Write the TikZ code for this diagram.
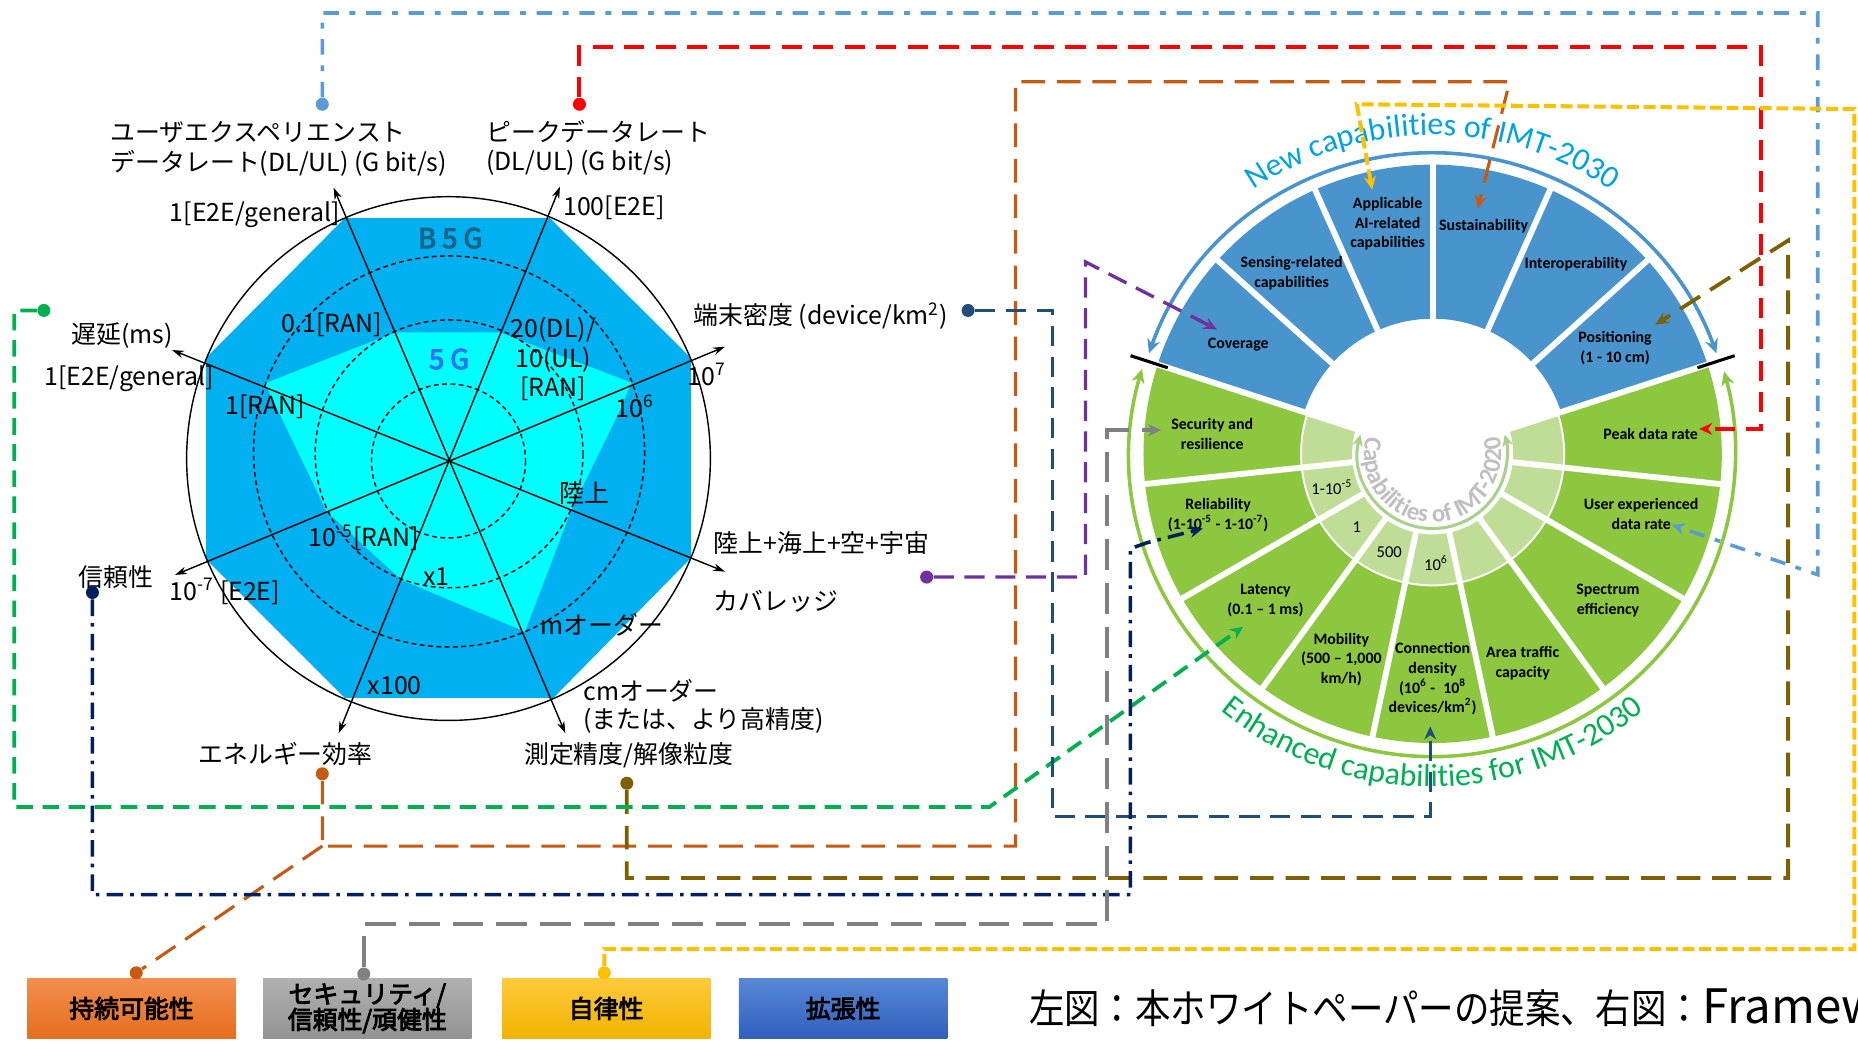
\documentclass[tikz,border=0pt]{standalone}
\usepackage{fontspec}
\setmainfont{Carlito}
\newfontfamily\jp{Noto Sans CJK JP}
\newfontfamily\jpbold[FakeBold=3.5]{Noto Sans CJK JP}
\newfontfamily\jpheavy[FakeBold=4]{Noto Sans CJK JP}
\newfontfamily\jpnarrow[FakeStretch=0.88]{Noto Sans CJK JP}
\newfontfamily\carl{Carlito}
\usetikzlibrary{arrows.meta,decorations.text}

\definecolor{octblue}{HTML}{00B0F0}
\definecolor{gcyan}{HTML}{00FFFF}
\definecolor{bfiveg}{HTML}{1B6488}
\definecolor{fiveg}{HTML}{2F74F0}
\definecolor{wblue}{HTML}{4A94CD}
\definecolor{wgreen}{HTML}{8DC63F}
\definecolor{lgreen}{HTML}{C0DD98}
\definecolor{igreen}{HTML}{A9D18E}
\definecolor{ltgray}{HTML}{BFBFBF}
\definecolor{tblue}{HTML}{00A3E0}
\definecolor{tgreen}{HTML}{00B050}
\definecolor{clblue}{HTML}{5B9BD5}
\definecolor{cred}{HTML}{FF0000}
\definecolor{cbrown}{HTML}{C55A11}
\definecolor{colive}{HTML}{7F6000}
\definecolor{cgreen}{HTML}{00B050}
\definecolor{cnavy}{HTML}{1F4E79}
\definecolor{cpurple}{HTML}{7030A0}
\definecolor{cdnavy}{HTML}{002060}
\definecolor{cgray}{HTML}{808080}
\definecolor{cyellow}{HTML}{FFC000}
\definecolor{boxOt}{HTML}{F28E4E}
\definecolor{boxOb}{HTML}{E66E1E}
\definecolor{boxGt}{HTML}{B0B0B0}
\definecolor{boxGb}{HTML}{939393}
\definecolor{boxYt}{HTML}{FFC93C}
\definecolor{boxYb}{HTML}{EFB400}
\definecolor{boxBt}{HTML}{5887D6}
\definecolor{boxBb}{HTML}{3060BC}

\tikzset{
  jl/.style={font=\jp\fontsize{10.5}{12}\selectfont, inner sep=0pt, anchor=west},
  jc/.style={font=\jp\fontsize{10.5}{12}\selectfont, inner sep=0pt},
  seglab/.style={font=\carl\bfseries\fontsize{6.7}{8.3}\selectfont, align=center, inner sep=0pt},
  ringval/.style={font=\carl\fontsize{7}{8}\selectfont, inner sep=0pt},
  dotn/.style={circle, inner sep=0pt, minimum size=5.5pt},
  tipa/.style={-{Stealth[length=5.5pt,width=5pt]}},
  axl/.style={line width=0.6pt, {Stealth[length=5pt,width=3.2pt]}-{Stealth[length=5pt,width=3.2pt]}},
  dcirc/.style={line width=0.6pt, dash pattern=on 2pt off 1.5pt},
  lbox/.style={minimum width=88pt, minimum height=25pt, inner sep=0pt, font=\jpbold\fontsize{10.5}{10.8}\selectfont, align=center},
  clb/.style={draw=clblue, line width=1.5pt, dash pattern=on 6.5pt off 4.5pt on 2.5pt off 4.5pt},
  crd/.style={draw=cred, line width=1.7pt, dash pattern=on 8.5pt off 4.8pt},
  cbr/.style={draw=cbrown, line width=1.3pt, dash pattern=on 10pt off 5pt},
  col/.style={draw=colive, line width=1.6pt, dash pattern=on 10pt off 5pt},
  cgr/.style={draw=cgreen, line width=1.6pt, dash pattern=on 7pt off 4pt},
  cnv/.style={draw=cnavy, line width=1.4pt, dash pattern=on 8.5pt off 4.5pt},
  cpu/.style={draw=cpurple, line width=1.4pt, dash pattern=on 8.5pt off 4.5pt},
  cdn/.style={draw=cdnavy, line width=1.5pt, dash pattern=on 7pt off 3pt on 1.5pt off 3pt},
  cgy/.style={draw=cgray, line width=1.6pt, dash pattern=on 13pt off 5.5pt},
  cye/.style={draw=cyellow, line width=1.7pt, dash pattern=on 5pt off 2pt},
}

\begin{document}
\begin{tikzpicture}[x=0.5pt,y=-0.5pt]
\useasboundingbox (0,0) rectangle (1568,881);
\clip (0,0) rectangle (1568,881);

% ---------------- radar chart ----------------
\fill[octblue] (291,184) -- (464,184) -- (583,302) -- (583,471) -- (467,589) -- (291,589) -- (174,472) -- (174,302) -- cycle;
\fill[gcyan] (334,280.4) -- (421.4,280.4) -- (533,323) -- (522.6,347.4) -- (482.4,429.8) -- (443,533) -- (339,489.5) -- (275.7,431.8) -- (223.6,323.5) -- cycle;
\draw[line width=0.6pt] (378.5,387) circle[radius=221];
\draw[dcirc] (378.5,389) circle[radius=65];
\draw[dcirc] (379,383) circle[radius=113];
\draw[dcirc] (379,381) circle[radius=165];

\coordinate (axU) at (281.5,158.4);
\coordinate (axM) at (477.1,618.8);
\coordinate (axP) at (472.6,157.5);
\coordinate (axE) at (285.8,618.8);
\coordinate (axD) at (611.8,292.6);
\coordinate (axR) at (147.7,485.2);
\coordinate (axL) at (145.2,295.4);
\coordinate (axC) at (611.8,482.4);
\draw[axl] (axU) -- (axM);
\draw[axl] (axP) -- (axE);
\draw[axl] (axD) -- (axR);
\draw[axl] (axL) -- (axC);

\node[jl] (l1a) at (93,112) {ユーザエクスペリエンスト};
\node[jl] (l1b) at (93,138) {データレート(DL/UL) (G bit/s)};
\node[jl] (l2a) at (410,111) {ピークデータレート};
\node[jl] (l2b) at (410,137) {(DL/UL) (G bit/s)};
\node[jc, anchor=east] (l3) at (287,181) {1[E2E/general]};
\node[jl] (l4) at (475,175) {100[E2E]};
\node[font=\jpheavy\fontsize{11.5}{12}\selectfont, text=bfiveg, inner sep=0pt] (b5g) at (380,201) {B 5 G};
\node[font=\jpheavy\fontsize{11.5}{12}\selectfont, text=fiveg, inner sep=0pt] (f5g) at (379,303) {5 G};
\node[jc] (l5) at (280,274) {0.1[RAN]};
\node[jc] (l6a) at (467,278) {20(DL)/};
\node[jc] (l6b) at (467,304) {10(UL)};
\node[jc] (l6c) at (467,328) {[RAN]};
\node[jl] (l7) at (60,283) {遅延(ms)};
\node[jl] (l8) at (37,320) {1[E2E/general]};
\node[jl] (l9) at (190,343) {1[RAN]};
\node[jl] (l10) at (519,343) {10\textsuperscript{6}};
\node[jl] (l11) at (580,316) {10\textsuperscript{7}};
\node[jl] (l12) at (585,267) {端末密度 (device/km\textsuperscript{2})};
\node[jl] (l13) at (472,416) {陸上};
\node[jl] (l14) at (602,458) {陸上+海上+空+宇宙};
\node[jl] (l15) at (602,507) {カバレッジ};
\node[jl] (l16) at (260,454) {10\textsuperscript{-5}[RAN]};
\node[jl] (l17) at (357,487) {x1};
\node[jl] (l18) at (66,487) {信頼性};
\node[jl] (l19) at (143,499) {10\textsuperscript{-7} [E2E]};
\node[jl] (l20) at (456,527) {mオーダー};
\node[jl] (l21) at (310,579) {x100};
\node[jl] (l22a) at (492,583) {cmオーダー};
\node[jl] (l22b) at (492,608) {(または、より高精度)};
\node[jl] (l23) at (167,636) {エネルギー効率};
\node[jl] (l24) at (442,637) {測定精度/解像粒度};

% ---------------- wheel ----------------
\begin{scope}[shift={(1209,383)}]
  \fill[wblue] (-18:114) arc[start angle=-18, end angle=-162, radius=114] -- (-162:244) arc[start angle=-162, end angle=-18, radius=244] -- cycle;
  \fill[wgreen] (-162:111) arc[start angle=-162, end angle=-378, radius=111] -- (-378:244) arc[start angle=-378, end angle=-162, radius=244] -- cycle;
  \fill[lgreen] (-162:68) arc[start angle=-162, end angle=-378, radius=68] -- (-378:111) arc[start angle=-378, end angle=-162, radius=111] -- cycle;
  \draw[white, line width=0.8pt] (-162:111) arc[start angle=-162, end angle=-378, radius=111];
  \foreach \a in {18,42,...,354} \draw[white, line width=2.5pt] (-\a:66) -- (-\a:247);
  % outer arcs
  \draw[wblue, line width=1.5pt, {Stealth[length=6pt,width=5.5pt]}-{Stealth[length=6pt,width=5.5pt]}] (-160.5:254) arc[start angle=-160.5, end angle=-19.5, radius=254];
  \draw[wgreen, line width=1.5pt, {Stealth[length=6pt,width=5.5pt]}-{Stealth[length=6pt,width=5.5pt]}] (-163.7:255.5) arc[start angle=-163.7, end angle=-375.8, radius=255.5];
  \draw[black, line width=1.3pt] (-162:235) -- (-162:268);
  \draw[black, line width=1.3pt] (-18:235) -- (-18:268);
  % inner arc
  \draw[igreen, line width=1.3pt, {Stealth[length=5pt,width=4.5pt]}-{Stealth[length=5pt,width=4.5pt]}] (-165:63) arc[start angle=-165, end angle=-375, radius=63];
  \path[decorate, decoration={text along path, text align=center,
     text={|\carl\bfseries\fontsize{10.5}{11}\selectfont\color{ltgray}|Capabilities of IMT-2020}}]
     (-150:58) arc[start angle=-150, end angle=-390, radius=58];
  \path[decorate, decoration={text along path, text align=center,
     text={|\carl\fontsize{13.5}{14}\selectfont\color{tblue}|New capabilities of IMT-2030}}]
     (-150:269) arc[start angle=-150, end angle=-30, radius=269];
  \path[decorate, decoration={text along path, text align=center,
     text={|\carl\fontsize{13.5}{14}\selectfont\color{tgreen}|Enhanced capabilities for IMT-2030}}]
     (-200:281) arc[start angle=-200, end angle=-340, radius=281];
\end{scope}

\node[seglab] (sCov) at (1045,291) {Coverage};
\node[seglab] (sSen) at (1090,230.5) {Sensing-related\\capabilities};
\node[seglab] (sAI) at (1171,189) {Applicable\\AI-related\\capabilities};
\node[seglab] (sSus) at (1252,190.5) {Sustainability};
\node[seglab] (sInt) at (1330,223) {Interoperability};
\node[seglab] (sPos) at (1363,294) {Positioning\\(1 - 10 cm)};
\node[seglab] (sSec) at (1023,366) {Security and\\resilience};
\node[seglab] (sPk) at (1393,366) {Peak data rate};
\node[seglab] (sRel) at (1028,435) {Reliability\\(1-10\textsuperscript{-5} - 1-10\textsuperscript{-7})};
\node[seglab] (sUE) at (1385,434) {User experienced\\data rate};
\node[seglab] (sLat) at (1068,507) {Latency\\(0.1 – 1 ms)};
\node[seglab] (sSpe) at (1357,507) {Spectrum\\efficiency};
\node[seglab] (sMob) at (1132,556.5) {Mobility\\(500 – 1,000\\km/h)};
\node[seglab] (sCon) at (1209,573) {Connection\\density\\(10\textsuperscript{6} -\; 10\textsuperscript{8}\\devices/km\textsuperscript{2})};
\node[seglab] (sAre) at (1285,559.5) {Area traffic\\capacity};
\node[ringval] (r1) at (1124,411) {1-10\textsuperscript{-5}};
\node[ringval] (r2) at (1145,444.5) {1};
\node[ringval] (r3) at (1172.4,466.4) {500};
\node[ringval] (r4) at (1212,475.4) {10\textsuperscript{6}};

% ---------------- legend boxes ----------------
\node[lbox, top color=boxOt, bottom color=boxOb] (bSU) at (111,851) {持続可能性};
\node[lbox, top color=boxGt, bottom color=boxGb] (bSE) at (310,851) {セキュリティ/\\信頼性/頑健性};
\node[lbox, top color=boxYt, bottom color=boxYb] (bAU) at (511.5,851) {自律性};
\node[lbox, top color=boxBt, bottom color=boxBb] (bEX) at (711.5,851) {拡張性};
\node[anchor=base west, inner sep=0pt, font=\jpnarrow\fontsize{17}{18}\selectfont] (cap) at (868,864) {左図：本ホワイトペーパーの提案、右図：{\jp\fontsize{20}{21}\selectfont Framework}};

% ---------------- connectors ----------------
\node[dotn, fill=clblue] (dUE) at (272,88) {};
\node[dotn, fill=cred] (dPK) at (489,88) {};
\node[dotn, fill=cbrown] (dEN) at (272,653) {};
\node[dotn, fill=colive] (dMS) at (529,661) {};
\node[dotn, fill=cgreen] (dLT) at (37,262) {};
\node[dotn, fill=cnavy] (dDN) at (817,262) {};
\node[dotn, fill=cpurple] (dCV) at (782,487) {};
\node[dotn, fill=cdnavy] (dRL) at (78,500) {};
\node[dotn, fill=cbrown] (dSU) at (115,821) {};
\node[dotn, fill=cgray] (dSE) at (307,822) {};
\node[dotn, fill=cyellow] (dAU) at (510,821) {};

\coordinate (tUE) at (1411,443);
\coordinate (tPK) at (1434,362);
\coordinate (tSU) at (1247,176);
\coordinate (tPO) at (1397,274);
\coordinate (tLT) at (1049,529);
\coordinate (tCD) at (1207,613);
\coordinate (tCV) at (1027,278);
\coordinate (tRL) at (1015,446);
\coordinate (tSE) at (980,363);
\coordinate (tAI) at (1158,160);
\coordinate (jEN) at (272,714);

\draw[clb, tipa] (dUE) -- (272,11) -- (1534,11) -- (1534,485) -- (tUE);
\draw[crd, tipa] (dPK) -- (489,40) -- (1486,40) -- (1486,362) -- (tPK);
\draw[cbr, tipa] (dEN) -- (jEN) -- (857,714) -- (857,69) -- (1274,69) -- (tSU);
\draw[cbr] (jEN) -- (dSU);
\draw[col, tipa] (dMS) -- (529,741) -- (1509,741) -- (1509,203) -- (tPO);
\draw[cgr, tipa] (dLT) -- (12,262) -- (12,681) -- (835,681) -- (tLT);
\draw[cnv, tipa] (dDN) -- (888,262) -- (888,689) -- (1207,689) -- (tCD);
\draw[cpu, tipa] (dCV) -- (916,487) -- (916,221) -- (tCV);
\draw[cdn, tipa] (dRL) -- (78,755) -- (954,755) -- (954,463) -- (968,458) -- (tRL);
\draw[cgy, tipa] (dSE) -- (307,780) -- (934,780) -- (934,363) -- (tSE);
\draw[cye, tipa] (dAU) -- (510,801) -- (1565,801) -- (1565,92) -- (1145,88) -- (tAI);
\end{tikzpicture}
\end{document}
